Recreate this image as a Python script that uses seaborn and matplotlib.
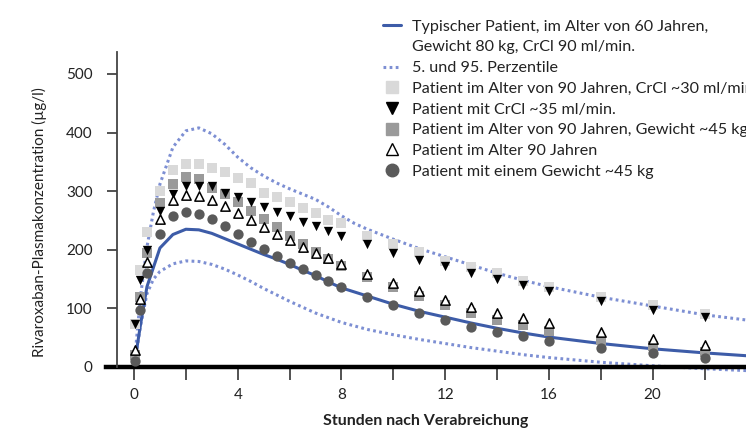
import matplotlib
matplotlib.use("Agg")
import matplotlib.pyplot as plt
from matplotlib.lines import Line2D
import numpy as np
import pandas as pd
import seaborn as sns

# hours after dosing (marker series)
hours = [0.05, 0.25, 0.5, 1, 1.5, 2, 2.5, 3, 3.5, 4, 4.5, 5, 5.5, 6, 6.5, 7, 7.5, 8,
         9, 10, 11, 12, 13, 14, 15, 16, 18, 20, 22]
age90_crcl30 = [74, 165, 230, 300, 336, 347, 347, 340, 332, 322, 314, 297, 290, 281, 272, 262, 251, 245,
                224, 209, 197, 181, 171, 160, 147, 137, 120, 105, 90]
crcl35 = [74, 149, 200, 266, 295, 308, 309, 308, 297, 290, 282, 273, 264, 257, 248, 240, 232, 224,
          210, 195, 183, 172, 160, 150, 140, 130, 113, 98, 86]
age90_45kg = [20, 120, 194, 279, 313, 324, 321, 305, 296, 281, 267, 252, 238, 224, 210, 196, 185, 173,
              154, 136, 121, 106, 92, 80, 71, 61, 46, 35, 26]
age90 = [29, 116, 179, 253, 285, 293, 291, 285, 274, 262, 251, 239, 227, 216, 205, 194, 186, 176,
         158, 143, 129, 114, 103, 92, 83, 75, 60, 47, 38]
weight45 = [10, 97, 160, 227, 257, 264, 261, 253, 241, 227, 214, 202, 190, 178, 167, 157, 147, 137,
            120, 105, 92, 80, 69, 60, 52, 45, 33, 23, 16]

# typical patient curve
hours_typ = [0, 0.25, 0.5, 1, 1.5, 2, 2.5, 3, 3.5, 4, 4.5, 5, 5.5, 6, 6.5, 7, 7.5, 8,
             9, 10, 11, 12, 13, 14, 15, 16, 18, 20, 22, 24]
typical = [0, 72, 137, 203, 226, 235, 234, 228, 219, 210, 201, 192, 184, 175, 165, 156, 145, 135,
           121, 107, 95, 85, 75, 66, 58, 51, 40, 31, 24, 18]

# 5th / 95th percentile
hours_pct = [0, 0.25, 0.5, 0.75, 1, 1.5, 2, 2.5, 3, 3.5, 4, 4.5, 5, 5.5, 6, 6.5, 7, 7.5, 8, 8.5,
             9, 10, 11, 12, 13, 14, 15, 16, 18, 20, 22, 24]
p95 = [0, 120, 205, 265, 312, 375, 403, 408, 398, 380, 358, 340, 326, 314, 304, 295, 286, 273, 258, 245,
       235, 218, 202, 188, 174, 160, 148, 137, 119, 104, 89, 78]
p5 = [0, 70, 125, 150, 163, 176, 181, 180, 175, 167, 157, 146, 134, 123, 112, 102, 92, 84, 76, 70,
      64, 55, 47, 40, 33, 27, 21, 16, 8, 2, -3, -7]

labels = ["Typischer Patient, im Alter von 60 Jahren,",
          "Gewicht 80 kg, CrCl 90 ml/min.",
          "5. und 95. Perzentile",
          "Patient im Alter von 90 Jahren, CrCl ~30 ml/min.",
          "Patient mit CrCl ~35 ml/min.",
          "Patient im Alter von 90 Jahren, Gewicht ~45 kg",
          "Patient im Alter 90 Jahren",
          "Patient mit einem Gewicht ~45 kg"]

sns.set_style("ticks")
plt.rcParams["font.family"] = ["Lato", "DejaVu Sans"]
plt.rcParams["font.size"] = 11

blue = "#3d5ca8"
blue_dot = "#7d8fd3"
txt = "#222222"

fig = plt.figure(figsize=(7.46, 4.33), dpi=100)
ax = fig.add_axes([106 / 746, 0.1363, 640 / 746, 0.7429])

df_pct = pd.DataFrame({"h": hours_pct, "p95": p95, "p5": p5})
dots = (0, (0.9, 1.1))
sns.lineplot(data=df_pct, x="h", y="p95", color=blue_dot, lw=2.2, ls=dots, ax=ax, sort=False)
sns.lineplot(data=df_pct, x="h", y="p5", color=blue_dot, lw=2.2, ls=dots, ax=ax, sort=False)
sns.lineplot(x=hours_typ, y=typical, color=blue, lw=2.2, ax=ax, sort=False)

sns.scatterplot(x=hours, y=age90_crcl30, marker="s", color="#d9d9d9", s=55, linewidth=0, ax=ax, zorder=3)
sns.scatterplot(x=hours, y=age90_45kg, marker="s", color="#9a9a9a", s=50, linewidth=0, ax=ax, zorder=4)
sns.scatterplot(x=hours, y=crcl35, marker="v", color="black", s=45, linewidth=0, ax=ax, zorder=5)
sns.scatterplot(x=hours, y=age90, marker="^", facecolor="white", edgecolor="black", s=45,
                linewidth=1.1, ax=ax, zorder=6)
sns.scatterplot(x=hours, y=weight45, marker="o", color="#5a5a5a", s=55, linewidth=0, ax=ax, zorder=7)

ax.set_xlim(-1.08, 23.6)
ax.set_ylim(-12, 537)
ax.spines["right"].set_visible(False)
ax.spines["top"].set_visible(False)
ax.spines["left"].set_position(("data", -0.65))
ax.spines["left"].set_bounds(0, 537)
ax.spines["left"].set_color("#444444")
ax.spines["left"].set_linewidth(1.3)
ax.spines["bottom"].set_position(("data", 0))
ax.spines["bottom"].set_linewidth(3.2)
ax.spines["bottom"].set_color("black")
ax.spines["bottom"].set_zorder(2)

ax.set_xticks([0, 4, 8, 12, 16, 20])
ax.set_xticks([2, 6, 10, 14, 18, 22], minor=True)
ax.set_yticks([0, 100, 200, 300, 400, 500])
ax.tick_params(axis="both", which="both", direction="out", color="#444444", width=1.3,
               labelcolor=txt, labelsize=11)
ax.tick_params(axis="x", which="both", length=9, pad=6)
ax.tick_params(axis="y", length=7.5, pad=10)

ax.set_xlabel("Stunden nach Verabreichung", fontweight="bold", fontsize=11.5, color=txt, labelpad=9)
ax.set_ylabel("Rivaroxaban-Plasmakonzentration (µg/l)", fontsize=11, color=txt)
ax.yaxis.set_label_coords(-0.092, 0.4725)

handles = [Line2D([], [], color=blue, lw=2.2),
           Line2D([], [], color="none"),
           Line2D([], [], color=blue_dot, lw=2.2, ls=dots),
           Line2D([], [], marker="s", color="#d9d9d9", ls="none", ms=9),
           Line2D([], [], marker="v", color="black", ls="none", ms=9),
           Line2D([], [], marker="s", color="#9a9a9a", ls="none", ms=9),
           Line2D([], [], marker="^", mfc="white", mec="black", ls="none", ms=8.5, mew=1.0),
           Line2D([], [], marker="o", color="#5a5a5a", ls="none", ms=9)]
leg = ax.legend(handles=handles, labels=labels, loc="upper left",
                bbox_to_anchor=(383 / 746, 0.955), bbox_transform=fig.transFigure,
                frameon=False, borderpad=0, borderaxespad=0, handlelength=1.12,
                handletextpad=0.68, labelspacing=0.4, fontsize=11.6)
for t in leg.get_texts():
    t.set_color(txt)

fig.savefig("out.png", dpi=100)
